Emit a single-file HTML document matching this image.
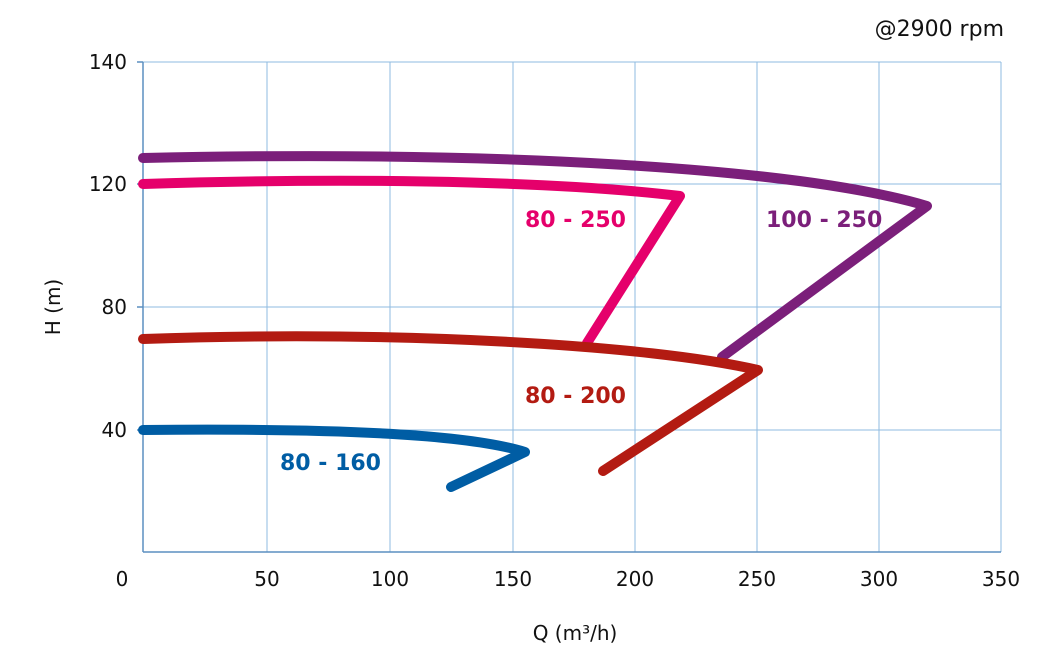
<!DOCTYPE html>
<html><head><meta charset="utf-8"><style>
html,body{margin:0;padding:0;background:#fff;}
svg{display:block;font-family:"DejaVu Sans","Liberation Sans",sans-serif;}
</style></head><body>
<svg width="1061" height="664" viewBox="0 0 1061 664">
<g stroke="#8fbbe0" stroke-width="1" fill="none">
<line x1="143" y1="62" x2="1001" y2="62"/>
<line x1="143" y1="184" x2="1001" y2="184"/>
<line x1="143" y1="307" x2="1001" y2="307"/>
<line x1="143" y1="430" x2="1001" y2="430"/>
<line x1="267" y1="62" x2="267" y2="552"/>
<line x1="390" y1="62" x2="390" y2="552"/>
<line x1="513" y1="62" x2="513" y2="552"/>
<line x1="635" y1="62" x2="635" y2="552"/>
<line x1="757" y1="62" x2="757" y2="552"/>
<line x1="879" y1="62" x2="879" y2="552"/>
<line x1="1001" y1="62" x2="1001" y2="552"/>
</g>
<g stroke="#5b8fc0" stroke-width="1.5">
<line x1="143" y1="62" x2="143" y2="552"/>
<line x1="143" y1="552" x2="1001" y2="552"/>
<line x1="137" y1="62" x2="143" y2="62"/><line x1="137" y1="184" x2="143" y2="184"/>
<line x1="137" y1="307" x2="143" y2="307"/><line x1="137" y1="430" x2="143" y2="430"/>
</g>
<g font-size="20" fill="#111" text-anchor="end">
<text x="127" y="69">140</text><text x="127" y="191">120</text>
<text x="127" y="314">80</text><text x="127" y="437">40</text>
</g>
<g font-size="20" fill="#111" text-anchor="middle">
<text x="122" y="586">0</text><text x="267" y="586">50</text><text x="390" y="586">100</text>
<text x="513" y="586">150</text><text x="635" y="586">200</text><text x="757" y="586">250</text>
<text x="879" y="586">300</text><text x="1001" y="586">350</text>
<text x="575" y="640">Q (m³/h)</text>
</g>
<text x="60" y="307" font-size="20" fill="#111" text-anchor="middle" transform="rotate(-90 60 307)">H (m)</text>
<text x="1004" y="36" font-size="22" fill="#111" text-anchor="end">@2900 rpm</text>
<g fill="none" stroke-width="10" stroke-linecap="round" stroke-linejoin="round">
<path d="M143,158 C500,150 800,168 927,206 L722,357" stroke="#7b1f7a"/>
<path d="M143,184 C400,176 580,184 680,196 L587,343" stroke="#e5006b"/>
<path d="M143,339 C400,330 650,345 758,370 L603,471" stroke="#b31b12"/>
<path d="M143,430 C350,428 470,435 525,452 L451,487" stroke="#005da4"/>
</g>
<g font-size="22" font-weight="bold">
<text x="766" y="227" fill="#7b1f7a">100 - 250</text>
<text x="525" y="227" fill="#e5006b">80 - 250</text>
<text x="525" y="403" fill="#b31b12">80 - 200</text>
<text x="280" y="470" fill="#005da4">80 - 160</text>
</g>
</svg>
</body></html>
